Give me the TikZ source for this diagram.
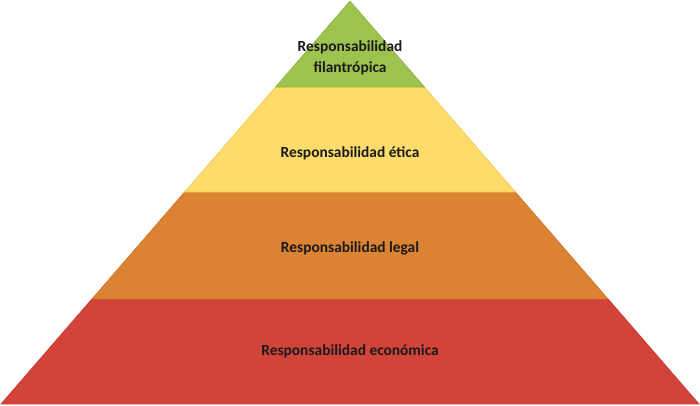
\documentclass[tikz,border=0pt]{standalone}
\usepackage{fontspec}
\setmainfont{Carlito}
\usetikzlibrary{calc}
\definecolor{pyrgreen}{HTML}{9DC34E}
\definecolor{pyrgreenedge}{HTML}{8DB340}
\definecolor{pyryellow}{HTML}{FDDC6C}
\definecolor{pyryellowedge}{HTML}{F2C94E}
\definecolor{pyrorange}{HTML}{DC8233}
\definecolor{pyrorangeedge}{HTML}{CF7226}
\definecolor{pyrred}{HTML}{D2443A}
\definecolor{pyrrededge}{HTML}{C8302A}
\definecolor{pyrink}{HTML}{1A1A1A}
\tikzset{
  pyramidlayer/.style={line width=0.6pt,line join=miter},
  layerlabel/.style={text=pyrink,font=\fontsize{15.4}{21}\selectfont\bfseries,
    align=center,inner sep=0pt},
}

\begin{document}
\begin{tikzpicture}[x=1pt,y=1pt]
        \path[use as bounding box] (0,0) rectangle (700,406);
        \coordinate (apex) at (350,405);
        \coordinate (bl) at (1,2);
        \coordinate (br) at (699,2);
        % level boundaries along the sides
        \coordinate (l1) at ($(bl)!0.2605!(apex)$);
        \coordinate (r1) at ($(br)!0.2605!(apex)$);
        \coordinate (l2) at ($(bl)!0.5260!(apex)$);
        \coordinate (r2) at ($(br)!0.5260!(apex)$);
        \coordinate (l3) at ($(bl)!0.7866!(apex)$);
        \coordinate (r3) at ($(br)!0.7866!(apex)$);
        \filldraw[pyramidlayer,fill=pyrred,draw=pyrrededge] (bl) -- (br) -- (r1) -- (l1) -- cycle;
        \filldraw[pyramidlayer,fill=pyrorange,draw=pyrorangeedge] (l1) -- (r1) -- (r2) -- (l2) -- cycle;
        \filldraw[pyramidlayer,fill=pyryellow,draw=pyryellowedge] (l2) -- (r2) -- (r3) -- (l3) -- cycle;
        \filldraw[pyramidlayer,fill=pyrgreen,draw=pyrgreenedge] (l3) -- (r3) -- (apex) -- cycle;
        \node[layerlabel] (econ) at (350,55) {Responsabilidad económica};
        \node[layerlabel] (legal) at (350,158) {Responsabilidad legal};
        \node[layerlabel] (etica) at (350,253) {Responsabilidad ética};
        \node[layerlabel] (filan) at (350,348) {Responsabilidad\\filantrópica};
      \end{tikzpicture}
\end{document}
